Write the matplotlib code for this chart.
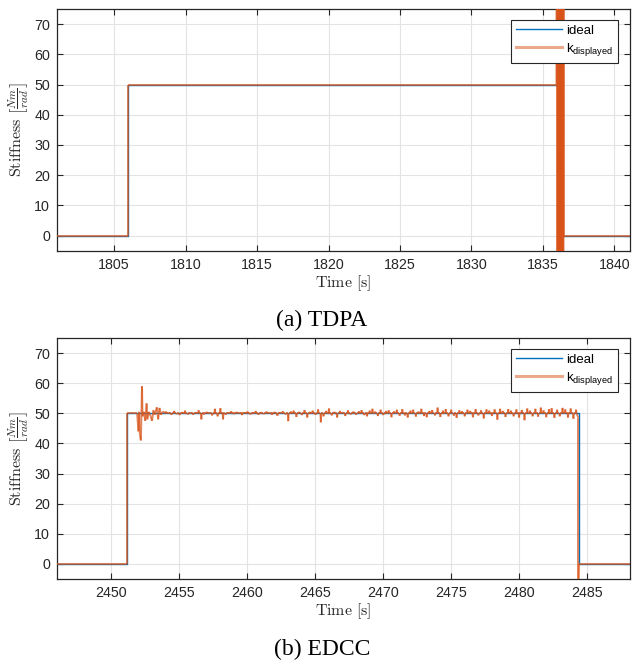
import numpy as np
import matplotlib
matplotlib.use('Agg')
import matplotlib.pyplot as plt
from matplotlib.collections import LineCollection
from matplotlib.lines import Line2D

BLUE = '#0072BD'
ORANGE = '#D95319'
AXC = '#262626'

# ---- (a) TDPA ----
ideal_a_t = [1801, 1806, 1806, 1836.2, 1836.2, 1841.1]
ideal_a_k = [0, 0, 50, 50, 0, 0]
# k displayed: follows the step, then oscillates hard around 1836 s
k_a_t = [1801, 1806, 1806, 1835.95,
         1835.98, 1836.01, 1836.04, 1836.07, 1836.10, 1836.13, 1836.16,
         1836.19, 1836.22, 1836.25, 1836.28, 1836.31, 1836.34, 1836.37,
         1836.40, 1836.43, 1836.46, 1836.47, 1841.1]
k_a_k = [0, 0, 50, 50,
         300, -300, 300, -300, 300, -300, 300,
         -300, 300, -300, 300, -300, 300, -300,
         300, -300, 300, 0, 0]

# ---- (b) EDCC ----
ideal_b_t = [2446, 2451.15, 2451.15, 2484.45, 2484.45, 2488.2]
ideal_b_k = [0, 0, 50, 50, 0, 0]
# transient right after the step
k_b_t0 = [2446, 2451.15, 2451.15, 2451.9, 2452.0, 2452.05, 2452.1, 2452.18,
          2452.22, 2452.26, 2452.3, 2452.4, 2452.5, 2452.6, 2452.65, 2452.75,
          2452.9, 2453.0, 2453.1, 2453.2, 2453.35, 2453.45, 2453.55, 2453.65,
          2453.8]
k_b_k0 = [0, 0, 50, 50, 44, 50.5, 43, 41,
          50, 59, 49, 50.5, 47.5, 53.3, 48, 50.5,
          49, 47.5, 51, 49.5, 52, 48, 51.8, 49.5,
          50.6]
# small spikes around 50 from 2454 s on, one every 0.2 s
k_b_dev = [0.6, 0.3, -0.5, 0.8, -0.3, -0.6, 0.4, 0.9, -0.4, 0.3,
           -0.5, 0.4, 1.0, -2.0, -0.4, 0.5, 0.3, -0.7, 1.5, -1.0,
           1.7, -2.0, -0.5, 0.4, 0.7, -0.3, 0.5, 0.3, -0.6, 0.4,
           0.6, -0.4, 0.3, 0.8, -0.5, 0.4, -0.3, 0.6, 0.3, -0.5,
           0.5, -0.8, 0.4, 0.7, -0.4, -2.6, 0.6, 0.9, -1.2, 0.5,
           -0.6, 1.1, -1.4, 0.5, 0.9, -0.5, 1.3, -3.0, -1.0, 0.8,
           1.6, -0.7, 0.5, -1.4, 0.8, 0.4, -0.9, 1.0, -0.4, 0.6,
           -0.5, 0.7, 1.1, -0.6, -1.0, 0.9, 1.5, 0.6, -0.9, 1.2,
           -0.6, 0.8, 1.0, -1.3, 0.7, 1.2, -0.8, 1.4, -0.7, -1.4,
           0.9, 1.2, -1.1, 0.6, 1.5, -0.9, -1.3, 0.8, 1.1, -0.7,
           1.9, -1.2, 0.9, 1.4, -1.0, 1.2, -0.8, -1.5, 1.0, 0.7,
           -1.0, 1.2, 0.8, -1.3, 1.4, -0.7, 1.0, -1.7, 1.3, 0.9,
           -0.9, 1.3, -2.1, 1.5, 0.8, -1.2, 1.4, 0.9, -1.0, 1.3,
           -1.4, 1.1, -2.3, 1.6, 0.9, -1.0, 1.5, -1.1, 1.9, 1.0,
           -1.3, 1.4, 1.7, -1.5, 1.2, -1.0, 1.8, 1.3, -1.4, 1.6,
           -1.8, 1.2]
k_b_t1 = [2484.4, 2484.4, 2484.45, 2488.2]
k_b_k1 = [48.5, -10, 0, 0]

# each spike is a narrow tooth: 50 -> 50+dev -> 50
n = len(k_b_dev)
spike_t = np.repeat(2454.0 + 0.2 * np.arange(n), 3) + np.tile([0, 0.03, 0.06], n)
spike_k = np.full(3 * n, 50.0)
spike_k[1::3] += np.array(k_b_dev)
k_b_t = np.concatenate([k_b_t0, spike_t, k_b_t1])
k_b_k = np.concatenate([k_b_k0, spike_k, k_b_k1])

fig = plt.figure(figsize=(6.44, 6.66), dpi=100)
ax_a = fig.add_axes([0.0885, 0.6236, 0.8898, 0.3629])
ax_b = fig.add_axes([0.0885, 0.1306, 0.8898, 0.3619])


def draw(ax, it, ik, kt, kk, xlim, xticks):
    ax.plot(it, ik, color=BLUE, lw=1.0, zorder=2)
    pts = np.column_stack([kt, kk])
    segs = np.stack([pts[:-1], pts[1:]], axis=1)
    ax.add_collection(LineCollection(segs, colors=ORANGE, linewidths=1.4,
                                     alpha=0.7, zorder=3))
    ax.set_xlim(*xlim)
    ax.set_ylim(-5, 75)
    ax.set_xticks(xticks)
    ax.set_yticks(range(0, 71, 10))
    ax.grid(True, color='#e3e3e3', lw=0.8)
    ax.set_axisbelow(True)
    ax.tick_params(direction='in', length=4, width=0.8, top=True, right=True,
                   colors=AXC, labelsize=10.3, pad=5)
    for lab in ax.get_xticklabels() + ax.get_yticklabels():
        lab.set_family('Liberation Sans')
    for s in ax.spines.values():
        s.set_color(AXC)
        s.set_linewidth(0.9)
    ax.set_xlabel(r'$\mathrm{Time}\ [\mathrm{s}]$', fontsize=11.5,
                  math_fontfamily='cm', labelpad=1, color=AXC)
    ax.set_ylabel(r'$\mathrm{Stiffness}\ \left[\frac{Nm}{rad}\right]$',
                  fontsize=11.5, math_fontfamily='cm', labelpad=2, color=AXC)
    handles = [Line2D([], [], color=BLUE, lw=1.0),
               Line2D([], [], color=ORANGE, lw=2.2, alpha=0.5)]
    leg = ax.legend(handles, ['ideal', r'k$_\mathregular{displayed}$'],
                    loc='upper right', bbox_to_anchor=(0.979, 0.954),
                    prop={'family': 'Liberation Sans', 'size': 9.5},
                    fancybox=False, framealpha=1, edgecolor=AXC,
                    handlelength=3.5, handletextpad=0.3, borderpad=0.35,
                    labelspacing=0.3, borderaxespad=0)
    leg.get_frame().set_linewidth(0.8)


draw(ax_a, ideal_a_t, ideal_a_k, k_a_t, k_a_k, (1801, 1841.1),
     [1805, 1810, 1815, 1820, 1825, 1830, 1835, 1840])
draw(ax_b, ideal_b_t, ideal_b_k, k_b_t, k_b_k, (2446, 2488.2),
     [2450, 2455, 2460, 2465, 2470, 2475, 2480, 2485])

fig.text(0.5, 1 - 320 / 666, '(a) TDPA', ha='center', va='center',
         family='Liberation Serif', fontsize=17)
fig.text(0.5, 1 - 649 / 666, '(b) EDCC', ha='center', va='center',
         family='Liberation Serif', fontsize=17)

fig.savefig('out.png', dpi=100)
